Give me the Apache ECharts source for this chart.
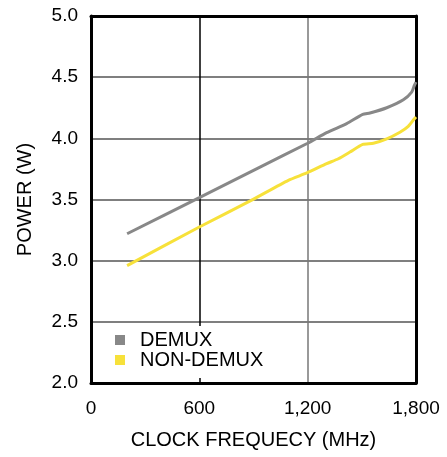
<!DOCTYPE html>
<html><head><meta charset="utf-8">
<script src="https://cdn.jsdelivr.net/npm/echarts@6/dist/echarts.min.js"></script>
<style>html,body{margin:0;padding:0;background:#fff}#c{width:447px;height:457px}</style>
</head><body><div id="c"></div>
<script>
const seriesNames = ['DEMUX', 'NON-DEMUX'];
const demuxFreq =  [200, 600, 936, 1200, 1305, 1416, 1505, 1545, 1638, 1730, 1776, 1791, 1800];
const demuxPower = [3.22, 3.515, 3.765, 3.96, 4.046, 4.12, 4.196, 4.207, 4.25, 4.315, 4.378, 4.433, 4.46];
const nonDemuxFreq =  [200, 600, 890, 1093, 1195, 1305, 1370, 1434, 1505, 1564, 1638, 1711, 1757, 1791, 1800];
const nonDemuxPower = [2.96, 3.275, 3.495, 3.657, 3.717, 3.793, 3.833, 3.888, 3.951, 3.96, 3.996, 4.05, 4.098, 4.16, 4.175];
const xTicks = [0, 600, 1200, 1800];
const yTicks = [2.0, 2.5, 3.0, 3.5, 4.0, 4.5, 5.0];

const zip = (a, b) => a.map((v, i) => [v, b[i]]);
const font = 'Liberation Sans, Arial, sans-serif';
const border = {show: true, onZero: false, lineStyle: {color: '#000', width: 3}};
const chart = echarts.init(document.getElementById('c'), null, {renderer: 'canvas'});
chart.setOption({
  animation: false,
  backgroundColor: '#fff',
  grid: {left: 91, right: 31, top: 16, bottom: 74},
  legend: {
    orient: 'vertical', left: 109, top: 326,
    itemWidth: 10, itemHeight: 10, itemGap: 0,
    backgroundColor: '#fff', padding: [4, 6, 8, 6],
    textStyle: {fontFamily: font, fontSize: 20, lineHeight: 19, color: '#000', padding: [0, 0, 0, 10]},
    data: seriesNames.map(n => ({name: n, icon: 'rect'}))
  },
  xAxis: [{
    type: 'value', min: xTicks[0], max: xTicks[xTicks.length - 1], interval: 600,
    name: 'CLOCK FREQUECY (MHz)', nameLocation: 'middle', nameGap: 47,
    nameTextStyle: {fontFamily: font, fontSize: 20, color: '#000'},
    axisLine: border, axisTick: {show: false},
    axisLabel: {fontFamily: font, fontSize: 19, color: '#000', margin: 16,
      formatter: v => v.toLocaleString('en-US')},
    splitLine: {show: true, lineStyle: {color: ['#000', '#000', '#777', '#000'], width: 1.5}}
  }, {
    type: 'value', position: 'top', min: xTicks[0], max: xTicks[xTicks.length - 1],
    axisLine: border, axisTick: {show: false}, axisLabel: {show: false}, splitLine: {show: false}
  }],
  yAxis: [{
    type: 'value', min: yTicks[0], max: yTicks[yTicks.length - 1], interval: 0.5,
    name: 'POWER (W)', nameLocation: 'middle', nameGap: 56, nameRotate: 90,
    nameTextStyle: {fontFamily: font, fontSize: 20, color: '#000'},
    axisLine: border, axisTick: {show: false},
    axisLabel: {fontFamily: font, fontSize: 19, color: '#000', margin: 13, formatter: v => v.toFixed(1)},
    splitLine: {show: true, lineStyle: {color: '#555', width: 1.5}}
  }, {
    type: 'value', position: 'right', min: yTicks[0], max: yTicks[yTicks.length - 1],
    axisLine: border, axisTick: {show: false}, axisLabel: {show: false}, splitLine: {show: false}
  }],
  series: [
    {name: seriesNames[0], type: 'line', data: zip(demuxFreq, demuxPower), showSymbol: false, smooth: 0.2,
     lineStyle: {color: '#888888', width: 3}, itemStyle: {color: '#888888'}},
    {name: seriesNames[1], type: 'line', data: zip(nonDemuxFreq, nonDemuxPower), showSymbol: false, smooth: 0.2,
     lineStyle: {color: '#f7e13a', width: 3}, itemStyle: {color: '#f7e13a'}}
  ]
});
</script></body></html>
